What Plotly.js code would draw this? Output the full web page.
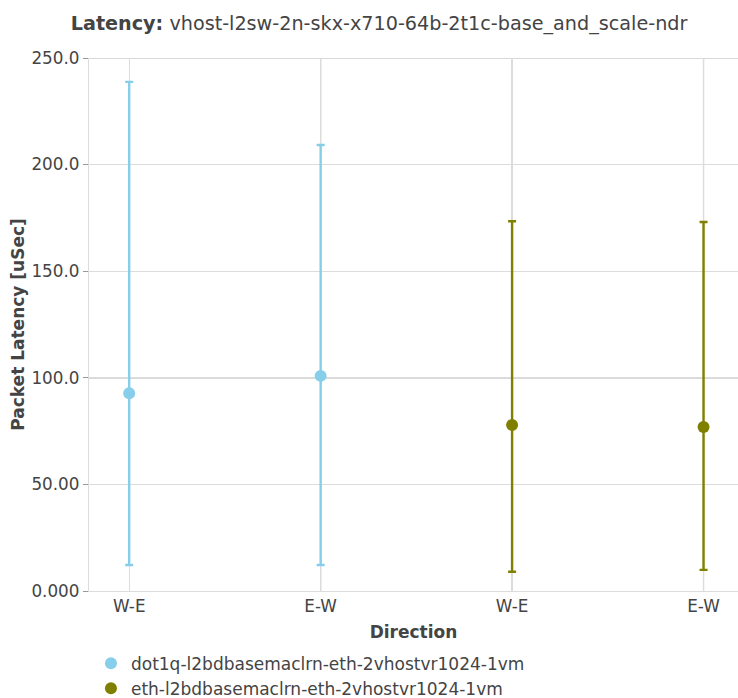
<!DOCTYPE html>
<html><head><meta charset="utf-8">
<script src="https://cdn.plot.ly/plotly-3.0.1.min.js"></script>
<style>body{margin:0;padding:0;}#chart{width:738px;height:698px;}</style>
</head><body><div id="chart"></div>
<script>
const tickLabels = ["W-E", "E-W", "W-E", "E-W"];
const seriesNames = ["dot1q-l2bdbasemaclrn-eth-2vhostvr1024-1vm", "eth-l2bdbasemaclrn-eth-2vhostvr1024-1vm"];
const seriesColors = ["#87CEEB", "#808000"];
const s1x = [0, 1];
const s1med = [92.7, 100.9];
const s1min = [12.2, 12.2];
const s1max = [238.8, 209.2];
const s2x = [2, 3];
const s2med = [77.9, 76.9];
const s2min = [9.0, 9.9];
const s2max = [173.4, 173.1];

function mk(x, med, mn, mx, name, color) {
  return {
    type: 'scatter', mode: 'markers', x: x, y: med, name: name,
    marker: {color: color, size: 12},
    error_y: {type: 'data', symmetric: false,
      array: mx.map((v, i) => v - med[i]),
      arrayminus: mn.map((v, i) => med[i] - v),
      color: color, thickness: 2.4, width: 4},
    hoverinfo: 'y'
  };
}
const data = [
  mk(s1x, s1med, s1min, s1max, seriesNames[0], seriesColors[0]),
  mk(s2x, s2med, s2min, s2max, seriesNames[1], seriesColors[1])
];
const dark = '#b4b4b4';
const shapes = [
  {type:'line', layer:'between', xref:'x', yref:'paper', x0:1, x1:1, y0:0, y1:1, line:{color:dark, width:1.2}},
  {type:'line', layer:'between', xref:'x', yref:'paper', x0:3, x1:3, y0:0, y1:1, line:{color:dark, width:1.2}},
  {type:'line', layer:'between', xref:'paper', yref:'y', x0:0, x1:1, y0:100, y1:100, line:{color:dark, width:1.2}},
  {type:'line', layer:'between', xref:'paper', yref:'y', x0:0, x1:1, y0:250, y1:250, line:{color:dark, width:1.2}}
];
const layout = {
  width: 738, height: 698,
  font: {family: 'DejaVu Sans, sans-serif', size: 16.8, color: '#444'},
  title: {text: '<b>Latency:</b> vhost-l2sw-2n-skx-x710-64b-2t1c-base_and_scale-ndr', x: 0.5136, xanchor: 'center', y: 0.966, yanchor: 'middle', font: {size: 19.2}},
  margin: {l: 89, r: 0, t: 58, b: 107},
  showlegend: true,
  legend: {orientation: 'v', x: 0.003, xanchor: 'left', xref: 'paper', yref: 'container', y: 0.075, yanchor: 'top', font: {size: 17}},
  xaxis: {
    title: {text: '<b>Direction</b>', font: {size: 17}, standoff: 10},
    tickmode: 'array', tickvals: [0, 1, 2, 3], ticktext: tickLabels,
    range: [-0.21, 3.18], showgrid: true, gridcolor: '#dcdcdc', gridwidth: 1.2,
    zeroline: false, showline: true, linecolor: '#dcdcdc', linewidth: 1.2,
    ticks: '', automargin: false, fixedrange: true
  },
  yaxis: {
    title: {text: '<b>Packet Latency [uSec]</b>', font: {size: 17}, standoff: 2},
    range: [0, 250], tickmode: 'array', tickvals: [0, 50, 100, 150, 200, 250],
    tickformat: '.4s', showgrid: true, gridcolor: '#dcdcdc', gridwidth: 1.2,
    zeroline: false, showline: true, linecolor: '#dcdcdc', linewidth: 1.2,
    ticks: 'outside', ticklen: 5, tickcolor: '#999', automargin: false, fixedrange: true
  },
  shapes: shapes,
  plot_bgcolor: 'white', paper_bgcolor: 'white'
};
Plotly.newPlot('chart', data, layout, {displayModeBar: false, staticPlot: true});
</script></body></html>
